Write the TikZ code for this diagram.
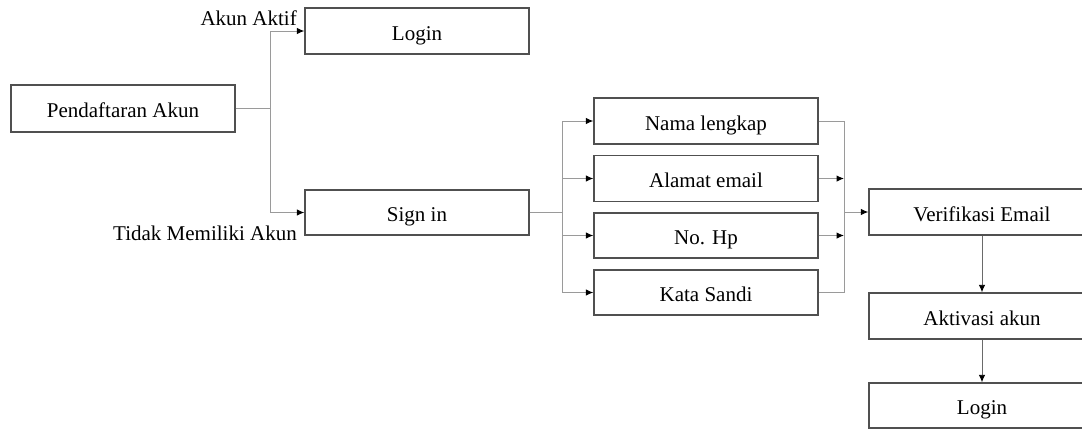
\documentclass[tikz,border=0pt]{standalone}
\usepackage{fontspec}
\setmainfont{Liberation Serif}
\usetikzlibrary{arrows.meta}
\definecolor{boxc}{HTML}{505050}
\definecolor{linec}{HTML}{9A9A9A}
\definecolor{vlinec}{HTML}{6A6A6A}
\begin{document}
\begin{tikzpicture}[x=1pt,y=-1pt,
  box/.style={draw=boxc, line width=1.4pt, minimum height=46pt, minimum width=224pt, inner sep=0pt, text height=18pt, text depth=0pt, font=\fontsize{21}{25}\selectfont},
  wbox/.style={box, minimum width=226pt},
  conn/.style={draw=linec, line width=1pt},
  arr/.style={conn, -{Latex[length=7.5pt,width=6.5pt,color=black]}},
  varr/.style={draw=vlinec, line width=0.9pt, -{Latex[length=7.5pt,width=6.5pt,color=black]}},
  lbl/.style={font=\fontsize{21}{25}\selectfont, inner sep=0pt, anchor=base east}]
\useasboundingbox (0,0) rectangle (1082,429);
\clip (0,0) rectangle (1082,429);
% nodes
\node[box, minimum height=47pt] (pend) at (123,108.5) {Pendaftaran Akun};
\node[box] (login1) at (417,31) {Login};
\node[box, minimum height=45pt] (signin) at (417,212.5) {Sign in};
\node[box] (nama) at (706,121) {Nama lengkap};
\node[box] (alamat) at (706,178.5) {Alamat email};
\node[box, minimum height=45pt] (nohp) at (706,235.5) {No. Hp};
\node[box, minimum height=45pt] (kata) at (706,292.5) {Kata Sandi};
\node[wbox] (verif) at (982,212) {Verifikasi Email};
\node[wbox] (aktiv) at (982,316) {Aktivasi akun};
\node[wbox, minimum height=45pt] (login2) at (982,405.5) {Login};
\node[lbl] (aktif) at (297,25) {Akun Aktif};
\node[lbl] (tidak) at (297,240) {Tidak Memiliki Akun};
% junction coordinates
\coordinate (j1) at (270,108.5);
\coordinate (j1t) at (270,31);
\coordinate (j1b) at (270,212.5);
\coordinate (j2) at (562,212.5);
\coordinate (j2t) at (562,121);
\coordinate (j2b) at (562,292.5);
\coordinate (j3t) at (844,121);
\coordinate (j3b) at (844,292.5);
\coordinate (j3) at (844,212);
% connectors
\draw[conn] (pend.east) -- (j1);
\draw[arr] (j1) -- (j1t) -- (login1.west);
\draw[arr] (j1) -- (j1b) -- (signin.west);
\draw[conn] (signin.east) -- (j2);
\draw[conn] (j2t) -- (j2b);
\draw[arr] (j2t) -- (nama.west);
\draw[arr] (j2t |- alamat.west) -- (alamat.west);
\draw[arr] (j2t |- nohp.west) -- (nohp.west);
\draw[arr] (j2b) -- (kata.west);
\draw[conn] (nama.east) -- (j3t) -- (j3b) -- (kata.east);
\draw[arr] (alamat.east) -- (j3t |- alamat.east);
\draw[arr] (nohp.east) -- (j3t |- nohp.east);
\draw[arr] (j3) -- (verif.west);
\draw[varr] (verif.south) -- (aktiv.north);
\draw[varr] (aktiv.south) -- (login2.north);
\end{tikzpicture}
\end{document}
